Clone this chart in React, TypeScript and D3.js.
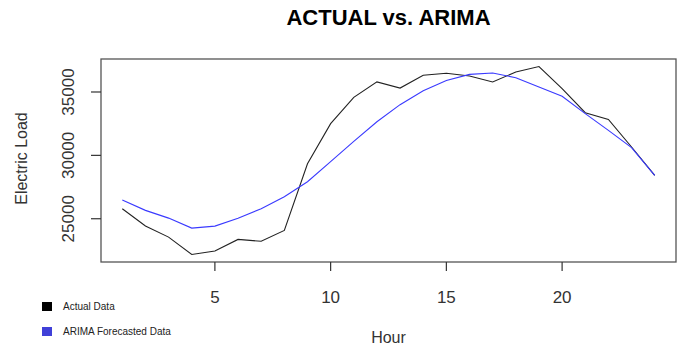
import * as d3 from 'd3';

const hours = d3.range(1, 25);
const actual = [
  25790, 24430, 23550, 22180, 22450, 23370, 23220, 24080, 29340, 32500, 34580, 35800,
  35310, 36320, 36480, 36260, 35790, 36580, 37010, 35260, 33370, 32840, 30660, 28420,
];
const arima = [
  26470, 25660, 25050, 24260, 24420, 25030, 25790, 26730, 27920, 29500, 31100, 32650,
  34000, 35100, 35900, 36390, 36500, 36130, 35390, 34660, 33290, 31970, 30610, 28420,
];
const xTicks = [5, 10, 15, 20];
const yTicks = [25000, 30000, 35000];
const legendItems = [
  { label: 'Actual Data', color: '#000000' },
  { label: 'ARIMA Forecasted Data', color: '#4040d8' },
];

const W = 683;
const H = 346;
const box = { left: 101, right: 676, top: 59, bottom: 262 };
const FONT = '"Liberation Sans", Arial, sans-serif';

// R-style 4% axis padding
function pad(ext: [number, number]): [number, number] {
  const d = (ext[1] - ext[0]) * 0.04;
  return [ext[0] - d, ext[1] + d];
}

export default function App() {
  const x = d3.scaleLinear().domain(pad([1, 24])).range([box.left, box.right]);
  const yExt = d3.extent(actual) as [number, number];
  const y = d3.scaleLinear().domain(pad(yExt)).range([box.bottom, box.top]);

  const line = d3.line<number>()
    .x((_, i) => x(hours[i]))
    .y((d) => y(d));

  const cx = (box.left + box.right) / 2;
  const cy = (box.top + box.bottom) / 2;

  return (
    <svg
      width={W}
      height={H}
      style={{ position: 'fixed', left: 0, top: 0, background: '#fff', fontFamily: FONT }}
    >
      <text x={cx} y={25} textAnchor="middle" fontSize={22} fontWeight="bold" fill="#000">
        ACTUAL vs. ARIMA
      </text>

      {/* plot box */}
      <rect
        x={box.left}
        y={box.top}
        width={box.right - box.left}
        height={box.bottom - box.top}
        fill="none"
        stroke="#555"
        strokeWidth={1.3}
      />

      {/* x axis */}
      {xTicks.map((t) => (
        <g key={t}>
          <line x1={x(t)} x2={x(t)} y1={box.bottom} y2={box.bottom + 9} stroke="#333" strokeWidth={1.2} />
          <text x={x(t)} y={303} textAnchor="middle" fontSize={17} fill="#333">{t}</text>
        </g>
      ))}

      {/* y axis */}
      {yTicks.map((t) => (
        <g key={t}>
          <line x1={box.left - 10} x2={box.left} y1={y(t)} y2={y(t)} stroke="#333" strokeWidth={1.2} />
          <text
            transform={`translate(74,${y(t)}) rotate(-90)`}
            textAnchor="middle"
            fontSize={17}
            fill="#333"
          >
            {t}
          </text>
        </g>
      ))}

      <text x={cx} y={343} textAnchor="middle" fontSize={16} fill="#333">Hour</text>
      <text transform={`translate(27,${cy - 2}) rotate(-90)`} textAnchor="middle" fontSize={16} fill="#333">
        Electric Load
      </text>

      {/* series */}
      <path d={line(actual) ?? ''} fill="none" stroke="#222" strokeWidth={1.1} />
      <path d={line(arima) ?? ''} fill="none" stroke="#3a3aff" strokeWidth={1.1} />

      {/* legend */}
      {legendItems.map((item, i) => (
        <g key={item.label} transform={`translate(42,${302 + i * 25})`}>
          <rect width={10} height={9} fill={item.color} />
          <text x={21} y={4.5} dominantBaseline="central" fontSize={10} fill="#222">
            {item.label}
          </text>
        </g>
      ))}
    </svg>
  );
}
